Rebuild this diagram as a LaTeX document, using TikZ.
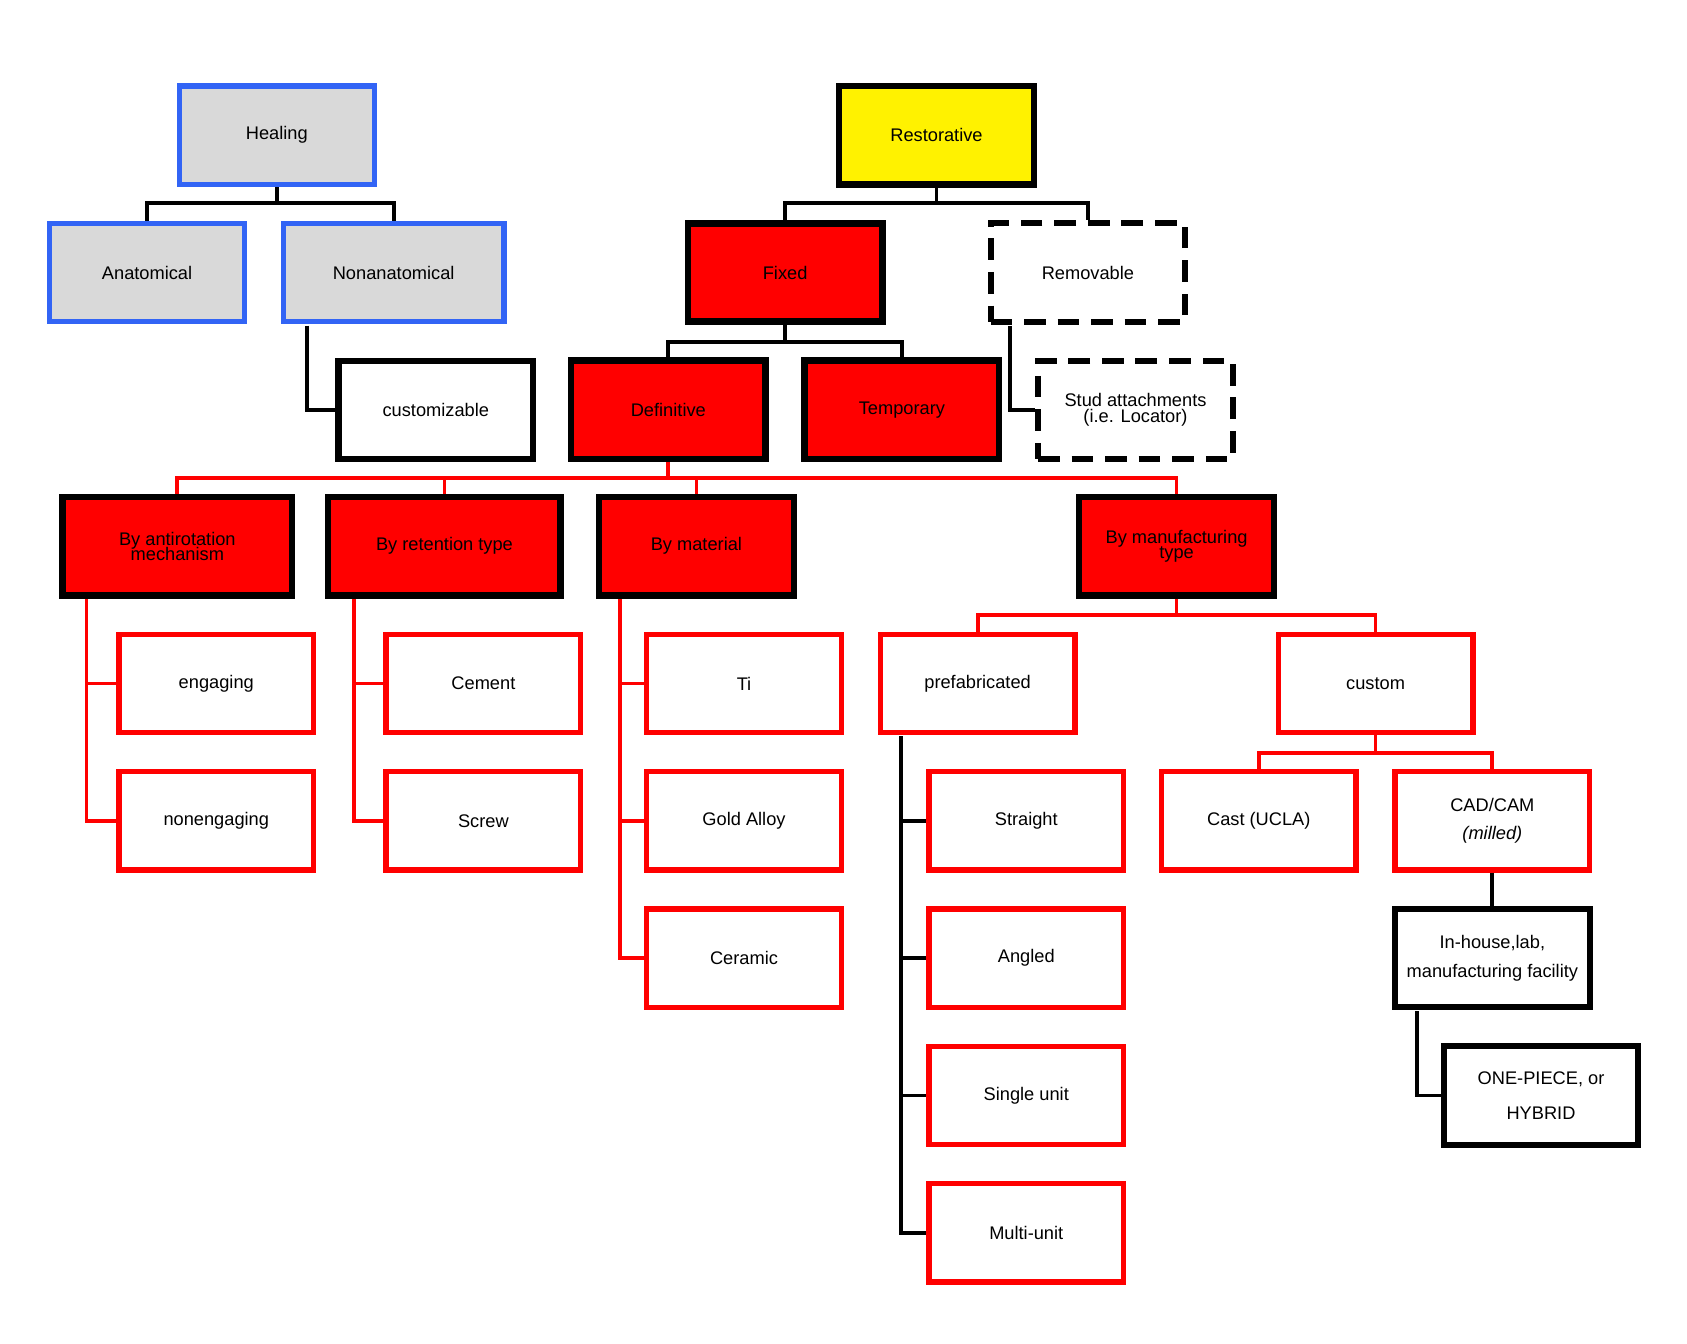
\documentclass[tikz,border=0pt]{standalone}
\usepackage{fontspec}
\setmainfont{Liberation Sans}
\begin{document}
\begin{tikzpicture}[x=0.05cm,y=-0.05cm,
 base/.style={rectangle,minimum width=9cm,minimum height=4.55cm,align=center,font=\fontsize{24}{34}\selectfont,inner sep=0pt},
 bluebox/.style={base,draw={rgb,255:red,50;green,100;blue,245},line width=7pt,fill={rgb,255:red,217;green,217;blue,217}},
 redbox/.style={base,draw=red,line width=7pt,fill=white},
 blkbox/.style={base,draw=black,line width=8pt,fill=white},
 dashbox/.style={base,draw=black,line width=8pt,dash pattern=on 1cm off 0.55cm,fill=white},
 fillred/.style={base,draw=black,line width=8.5pt,fill=red},
 yelbox/.style={base,draw=black,line width=8.5pt,fill=yellow},
 bl/.style={draw=black,line width=5pt},
 rl/.style={draw=red,line width=5pt}]
\useasboundingbox (0,0) rectangle (1560,1242);
\node[bluebox] (heal) at (256,125) {Healing};
\node[bluebox] (anat) at (136,252) {Anatomical};
\node[bluebox,minimum width=10.2cm] (nona) at (364,252) {Nonanatomical};
\node[blkbox] (cust) at (403,379) {customizable};
\node[yelbox] (rest) at (866,125) {Restorative};
\node[fillred] (fix) at (726,252) {Fixed};
\node[dashbox] (remo) at (1006,252) {Removable};
\node[fillred] (defi) at (618,379) {Definitive};
\node[fillred] (temp) at (834,379) {Temporary};
\node[dashbox] (stud) at (1050,379) {Stud attachments\\[-14pt](i.e. Locator)};
\node[fillred,minimum width=10.6cm] (anti) at (164,505) {By antirotation\\[-14pt]mechanism};
\node[fillred,minimum width=10.75cm] (rete) at (411,505) {By retention type};
\node[fillred] (mate) at (644,505) {By material};
\node[fillred] (manu) at (1088,505) {By manufacturing\\[-14pt]type};
\node[redbox] (enga) at (200,632) {engaging};
\node[redbox] (none) at (200,759) {nonengaging};
\node[redbox] (ceme) at (447,632) {Cement};
\node[redbox] (scre) at (447,759) {Screw};
\node[redbox] (ti) at (688,632) {Ti};
\node[redbox] (gold) at (688,759) {Gold Alloy};
\node[redbox] (cera) at (688,886) {Ceramic};
\node[redbox] (pref) at (904,632) {prefabricated};
\node[redbox] (cus) at (1272,632) {custom};
\node[redbox] (stra) at (949,759) {Straight};
\node[redbox] (angl) at (949,886) {Angled};
\node[redbox] (sing) at (949,1013) {Single unit};
\node[redbox] (mult) at (949,1140) {Multi-unit};
\node[redbox] (cast) at (1164,759) {Cast (UCLA)};
\node[redbox] (cad) at (1380,759) {CAD/CAM\\[2pt]\textit{(milled)}};
\node[blkbox] (inho) at (1380,886) {In-house,lab,\\[4pt]manufacturing facility};
\node[blkbox] (onep) at (1425,1013) {ONE-PIECE, or\\[12pt]HYBRID};
% connectors
\draw[bl] (heal.south) -- (256,188) -| (anat.north);
\draw[bl] (256,188) -| (nona.north);
\draw[bl] (rest.south) -- (866,188) -| (fix.north);
\draw[bl] (866,188) -| (remo.north);
\draw[bl] (fix.south) -- (726,316) -| (defi.north);
\draw[bl] (726,316) -| (temp.north);
\draw[bl] (284,301) |- (cust.west);
\draw[bl] (934,301) |- (stud.west);
\draw[rl] (defi.south) -- (618,442) -| (anti.north);
\draw[rl] (618,442) -| (rete.north);
\draw[rl] (618,442) -| (mate.north);
\draw[rl] (618,442) -| (manu.north);
\draw[rl] (80,554) |- (none.west);
\draw[rl] (80,632) -- (enga.west);
\draw[rl] (327,554) |- (scre.west);
\draw[rl] (327,632) -- (ceme.west);
\draw[rl] (573,554) |- (cera.west);
\draw[rl] (573,632) -- (ti.west);
\draw[rl] (573,759) -- (gold.west);
\draw[rl] (manu.south) -- (1088,569) -| (pref.north);
\draw[rl] (1088,569) -| (cus.north);
\draw[bl] (833,681) |- (mult.west);
\draw[bl] (833,759) -- (stra.west);
\draw[bl] (833,886) -- (angl.west);
\draw[bl] (833,1013) -- (sing.west);
\draw[rl] (cus.south) -- (1272,696) -| (cast.north);
\draw[rl] (1272,696) -| (cad.north);
\draw[bl] (cad.south) -- (inho.north);
\draw[bl] (1310,935) |- (onep.west);
\end{tikzpicture}
\end{document}
